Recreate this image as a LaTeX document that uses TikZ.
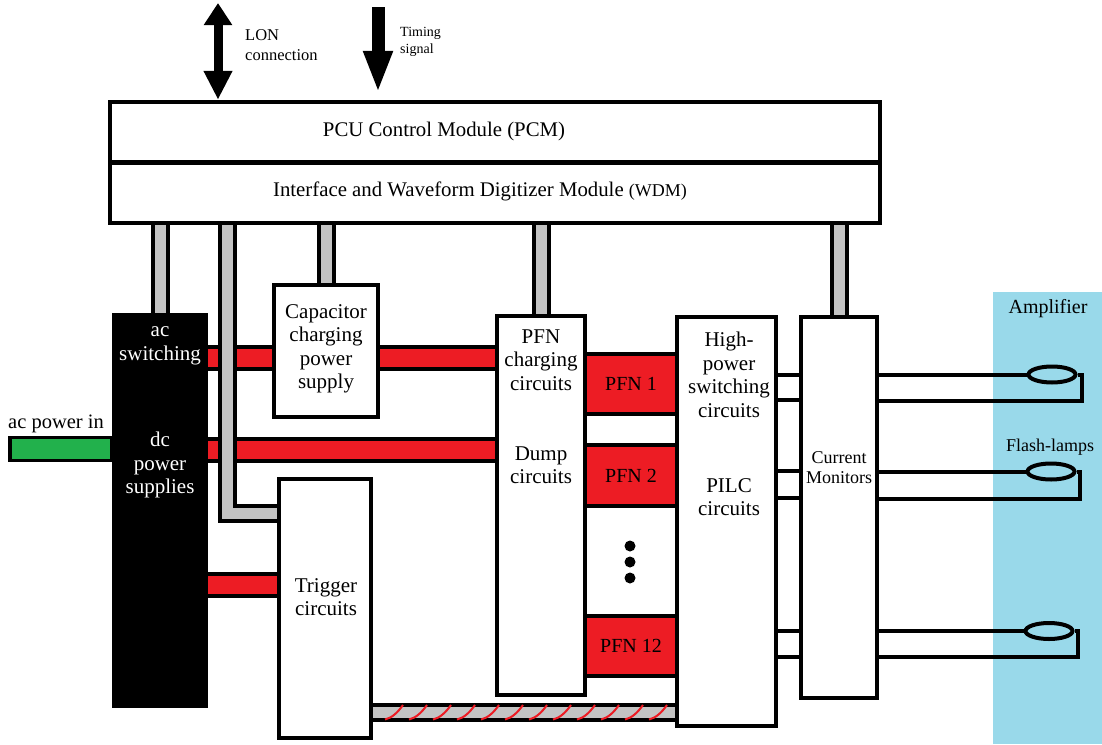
\documentclass[tikz,border=0pt]{standalone}
\usepackage{fontspec}
\setmainfont{Liberation Serif}
\usetikzlibrary{arrows.meta,calc,shapes.geometric}
\pgfdeclarelayer{back}
\pgfdeclarelayer{mid}
\pgfsetlayers{back,mid,main}
\definecolor{pred}{HTML}{ED1C24}
\definecolor{pgreen}{HTML}{22B14C}
\definecolor{pgray}{HTML}{C3C3C3}
\definecolor{pblue}{HTML}{99D9EA}
\begin{document}
\begin{tikzpicture}[x=1pt,y=-1pt,
  blk/.style={draw=black,line width=4pt,fill=white,inner sep=0pt},
  pfnbox/.style={blk,fill=pred,minimum width=92,font=\fontsize{20}{22}\selectfont},
  txt/.style={align=center,inner sep=0pt,font=\fontsize{21}{23.5}\selectfont},
  smalltxt/.style={align=center,inner sep=0pt,font=\fontsize{18}{20}\selectfont},
  pipe/.style={draw=black,line width=4pt,double=pgray,double distance=11pt,line join=miter},
  redbar/.style={draw=black,line width=4pt,double=pred,double distance=18pt},
  wire/.style={draw=black,line width=4pt,line join=miter},
  lamp/.style={draw=black,line width=4pt,ellipse,inner sep=0pt,minimum width=47,minimum height=16},
  hatch/.style={draw=pred,line width=2pt}
]
\useasboundingbox (0,0) rectangle (1102,744);
\begin{pgfonlayer}{back}
\fill[white] (0,0) rectangle (1102,744);
\fill[pblue] (993,292) rectangle (1102,744);
\end{pgfonlayer}

% boxes
\node[blk,minimum width=770,minimum height=60.5] (pcm) at (495,132) {};
\node[blk,minimum width=770,minimum height=60.5] (wdm) at (495,192.75) {};
\node[blk,fill=black,minimum width=92,minimum height=391] (ps) at (160,510.5) {};
\node[blk,minimum width=104,minimum height=132] (cap) at (326,351) {};
\node[blk,minimum width=92,minimum height=259] (trig) at (325,608.5) {};
\node[blk,minimum width=88,minimum height=379] (pfnc) at (541,505.5) {};
\node[blk,minimum width=99,minimum height=409] (hps) at (726.5,521.5) {};
\node[blk,minimum width=76,minimum height=381] (cm) at (839,507.5) {};
\node[pfnbox,minimum height=60] (pfn1) at (631,383.5) {PFN 1};
\node[blk,minimum width=92,minimum height=31] (gap1) at (631,429.5) {};
\node[pfnbox,minimum height=61] (pfn2) at (631,475.5) {PFN 2};
\node[blk,minimum width=92,minimum height=110.5] (gap2) at (631,561.25) {};
\node[pfnbox,minimum height=60] (pfn12) at (631,646.25) {PFN 12};
\node[circle,fill=black,inner sep=0pt,minimum size=11pt] (dot1) at (630,546) {};
\node[circle,fill=black,inner sep=0pt,minimum size=11pt] (dot2) at (630,562) {};
\node[circle,fill=black,inner sep=0pt,minimum size=11pt] (dot3) at (630,578) {};

% texts
\node[txt,font=\fontsize{20.8}{23}\selectfont] (tpcm) at (444,131) {PCU Control Module (PCM)};
\node[txt,font=\fontsize{20.8}{23}\selectfont] (twdm) at (480,191.5) {Interface and Waveform Digitizer Module {\fontsize{18}{20}\selectfont(WDM)}};
\node[txt,text=white] (tac) at (160,346) {ac\\switching};
\node[txt,text=white] (tdc) at (160,465) {dc\\power\\supplies};
\node[txt] (tcap) at (326,349) {Capacitor\\charging\\power\\supply};
\node[txt] (ttrig) at (326,597) {Trigger\\circuits};
\node[txt] (tpfnc) at (541,360) {PFN\\charging\\circuits};
\node[txt] (tdump) at (541,465) {Dump\\circuits};
\node[txt] (thps) at (729,375) {High-\\power\\switching\\circuits};
\node[txt] (tpilc) at (729,497) {PILC\\circuits};
\node[smalltxt] (tcm) at (839,468) {Current\\Monitors};
\node[txt,font=\fontsize{20.5}{23}\selectfont] (tacin) at (56,424) {ac power in};
\node[txt,font=\fontsize{16.5}{20}\selectfont,anchor=west,align=left] (tlon) at (245,45) {LON\\connection};
\node[txt,font=\fontsize{14}{17}\selectfont,anchor=west,align=left] (ttim) at (400,42) {Timing\\signal};
\node[txt,font=\fontsize{20}{22}\selectfont] (tamp) at (1048,309) {Amplifier};
\node[smalltxt] (tflash) at (1050,447) {Flash-lamps};

% connectors under the boxes
\begin{pgfonlayer}{mid}
\coordinate (acy) at (0,358);
\coordinate (dcy) at (0,450);
\coordinate (try) at (0,585);
\coordinate (hy) at (0,712);
\draw[redbar] (ps.east |- acy) -- (pfnc.west |- acy);
\draw[redbar] (ps.east |- dcy) -- (pfnc.west |- dcy);
\draw[redbar] (ps.east |- try) -- (trig.west |- try);
\coordinate (acin) at (10,437.5);
\draw[line width=3.5pt,fill=pgreen] (acin) rectangle (ps.west |- 0,460.5);
\draw[pipe] (ps.north) -- (ps.north |- wdm.south);
\coordinate (pbend) at (227.5,513);
\draw[pipe] (pbend |- wdm.south) -- (pbend) -- (pbend -| trig.west);
\draw[pipe] (cap.north) -- (cap.north |- wdm.south);
\draw[pipe] (pfnc.north) -- (pfnc.north |- wdm.south);
\draw[pipe] (cm.north) -- (cm.north |- wdm.south);
\draw[pipe] (trig.east |- hy) -- (hps.west |- hy);
\foreach \x in {385,409,433,457,481,505,529,553,577,601,625,649}
  \draw[hatch] (\x,719.5) .. controls (\x+7,718) and (\x+13,712) .. (\x+18,705);
\foreach \y in {375,400,471,498,631,657}
  \draw[wire] (hps.east |- 0,\y) -- (cm.west |- 0,\y);
\end{pgfonlayer}

% flash lamps
\node[lamp] (lamp1) at (1052,374.5) {};
\node[lamp] (lamp2) at (1051,471.5) {};
\node[lamp] (lamp3) at (1049,631) {};
\draw[wire] (cm.east |- lamp1) -- (lamp1.west);
\draw[wire] (lamp1.east) -- (1082,374.5) -- (1082,401) -- (cm.east |- 0,401);
\draw[wire] (cm.east |- lamp2) -- (lamp2.west);
\draw[wire] (lamp2.east) -- (1080,471.5) -- (1080,499) -- (cm.east |- 0,499);
\draw[wire] (cm.east |- lamp3) -- (lamp3.west);
\draw[wire] (lamp3.east) -- (1078,631) -- (1078,657) -- (cm.east |- 0,657);

% top arrows
\coordinate (lon) at (218,3);
\draw[line width=9pt,{Triangle[width=27pt,length=22pt]}-{Triangle[width=27pt,length=29pt]}] (lon) -- (lon |- pcm.north);
\coordinate (tim) at (378,7);
\draw[line width=13pt,-{Triangle[width=27pt,length=42pt]},shorten >=7pt] (tim) -- (tim |- pcm.north);
\end{tikzpicture}
\end{document}
